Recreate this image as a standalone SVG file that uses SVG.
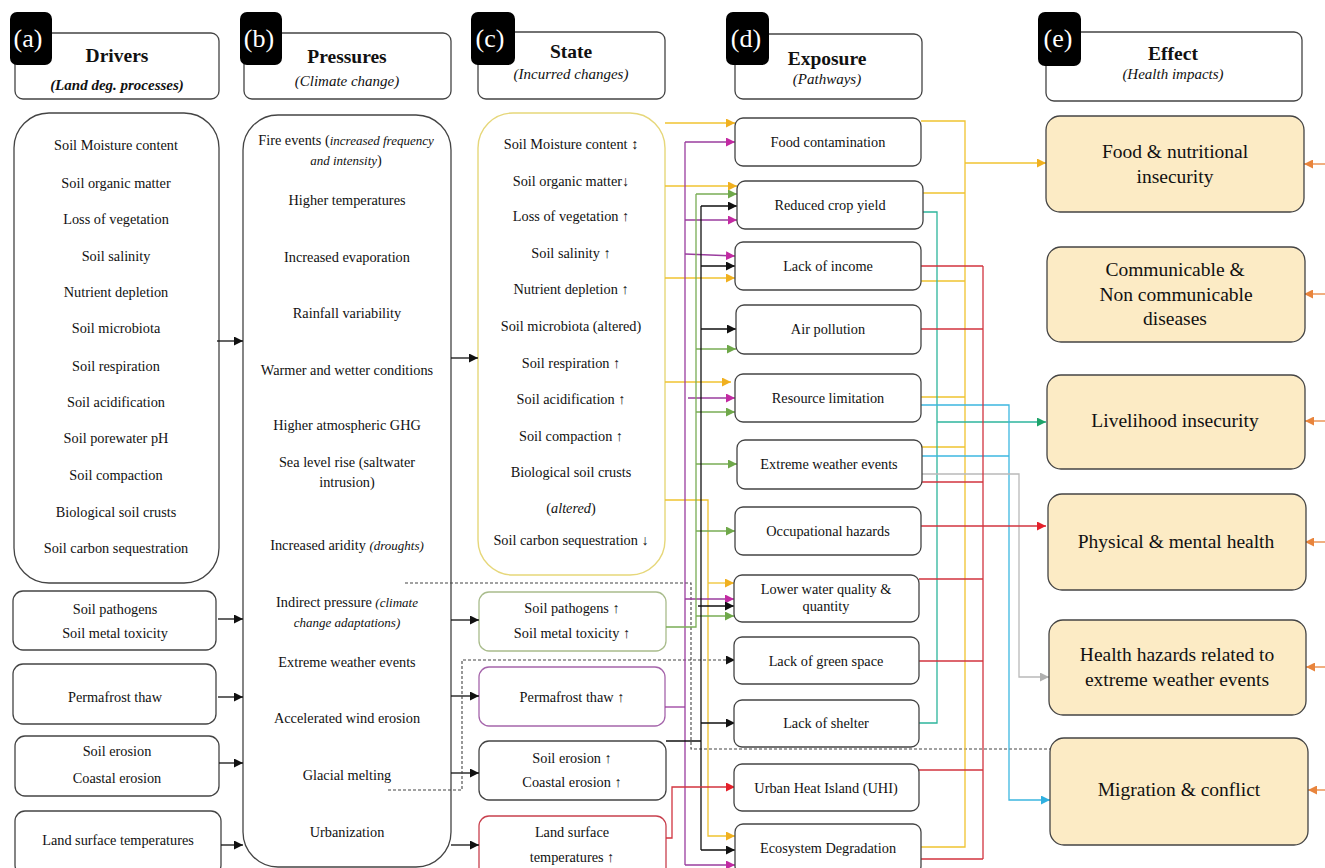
<svg xmlns="http://www.w3.org/2000/svg" width="1325" height="868" viewBox="0 0 1325 868" font-family="'Liberation Serif', 'DejaVu Serif', serif">
<defs>
<style>
text{font-family:'Liberation Serif','DejaVu Serif',serif;fill:#111;}
.t{font-size:14.3px;text-anchor:middle;}
.h{font-size:19.5px;font-weight:bold;text-anchor:middle;}
.s{font-size:15px;font-style:italic;text-anchor:middle;}
.tag{font-size:26px;fill:#fff;text-anchor:middle;}
.ef{font-size:19.5px;text-anchor:middle;}
.it{font-style:italic;font-size:13px;}
.box{fill:#fff;stroke:#444;stroke-width:1.3;}
.eff{fill:#fcebc5;stroke:#444;stroke-width:1.3;}
.tg{fill:#000;}
.c{fill:none;stroke-width:1.3;}
.k{stroke:#111;}
.y{stroke:#f0c330;}
.p{stroke:#9a3d9e;}
.g{stroke:#79ad55;}
.tl{stroke:#2db59c;}
.cy{stroke:#3db7e0;}
.gr{stroke:#b9b9b9;}
.r{stroke:#d2343f;}
.o{stroke:#e8843c;}
.d{stroke:#444;stroke-dasharray:3 2;stroke-width:1.1;}
</style>
<marker id="ak" viewBox="0 0 9 9" refX="9" refY="4.5" markerWidth="9" markerHeight="9" markerUnits="userSpaceOnUse" orient="auto"><path d="M0,0L9,4.5L0,9z" fill="#111"/></marker>
<marker id="ay" viewBox="0 0 9 9" refX="9" refY="4.5" markerWidth="9" markerHeight="9" markerUnits="userSpaceOnUse" orient="auto"><path d="M0,0L9,4.5L0,9z" fill="#f0b020"/></marker>
<marker id="am" viewBox="0 0 9 9" refX="9" refY="4.5" markerWidth="9" markerHeight="9" markerUnits="userSpaceOnUse" orient="auto"><path d="M0,0L9,4.5L0,9z" fill="#c22aa2"/></marker>
<marker id="ag" viewBox="0 0 9 9" refX="9" refY="4.5" markerWidth="9" markerHeight="9" markerUnits="userSpaceOnUse" orient="auto"><path d="M0,0L9,4.5L0,9z" fill="#6fa84a"/></marker>
<marker id="at" viewBox="0 0 9 9" refX="9" refY="4.5" markerWidth="9" markerHeight="9" markerUnits="userSpaceOnUse" orient="auto"><path d="M0,0L9,4.5L0,9z" fill="#1fa36a"/></marker>
<marker id="ac" viewBox="0 0 9 9" refX="9" refY="4.5" markerWidth="9" markerHeight="9" markerUnits="userSpaceOnUse" orient="auto"><path d="M0,0L9,4.5L0,9z" fill="#2fb0e0"/></marker>
<marker id="aG" viewBox="0 0 9 9" refX="9" refY="4.5" markerWidth="9" markerHeight="9" markerUnits="userSpaceOnUse" orient="auto"><path d="M0,0L9,4.5L0,9z" fill="#b0b0b0"/></marker>
<marker id="ar" viewBox="0 0 9 9" refX="9" refY="4.5" markerWidth="9" markerHeight="9" markerUnits="userSpaceOnUse" orient="auto"><path d="M0,0L9,4.5L0,9z" fill="#e5202a"/></marker>
<marker id="ao" viewBox="0 0 9 9" refX="9" refY="4.5" markerWidth="9" markerHeight="9" markerUnits="userSpaceOnUse" orient="auto"><path d="M0,0L9,4.5L0,9z" fill="#e8843c"/></marker>
</defs>
<rect width="1325" height="868" fill="#fff"/>

<!-- headers -->
<g id="hdr-a"><rect class="box" x="15" y="33" width="204" height="66" rx="8"/><rect class="tg" x="10" y="12" width="42" height="53" rx="7"/><text class="tag" x="28" y="47">(a)</text><text class="h" x="117" y="62">Drivers</text><text class="s" x="117" y="90" font-weight="bold">(Land deg. processes)</text></g>
<g id="hdr-b"><rect class="box" x="244" y="33" width="207" height="66" rx="8"/><rect class="tg" x="240" y="12" width="42" height="53" rx="7"/><text class="tag" x="259" y="47">(b)</text><text class="h" x="347" y="63">Pressures</text><text class="s" x="347" y="86">(Climate change)</text></g>
<g id="hdr-c"><rect class="box" x="478" y="32" width="187" height="67" rx="8"/><rect class="tg" x="471" y="12" width="44" height="53" rx="7"/><text class="tag" x="490" y="47">(c)</text><text class="h" x="571" y="58">State</text><text class="s" x="571" y="79">(Incurred changes)</text></g>
<g id="hdr-d"><rect class="box" x="735" y="34" width="187" height="65" rx="8"/><rect class="tg" x="726" y="12" width="43" height="53" rx="7"/><text class="tag" x="746" y="47">(d)</text><text class="h" x="827" y="65">Exposure</text><text class="s" x="827" y="84">(Pathways)</text></g>
<g id="hdr-e"><rect class="box" x="1046" y="32" width="256" height="69" rx="8"/><rect class="tg" x="1038" y="12" width="43" height="54" rx="7"/><text class="tag" x="1058" y="47">(e)</text><text class="h" x="1173" y="60">Effect</text><text class="s" x="1173" y="79">(Health impacts)</text></g>

<!-- drivers -->
<g id="drivers-main"><rect class="box" x="14" y="113" width="205" height="470" rx="35"/>
<text class="t" x="116" y="150">Soil Moisture content</text>
<text class="t" x="116" y="188">Soil organic matter</text>
<text class="t" x="116" y="224">Loss of vegetation</text>
<text class="t" x="116" y="261">Soil salinity</text>
<text class="t" x="116" y="297">Nutrient depletion</text>
<text class="t" x="116" y="333">Soil microbiota</text>
<text class="t" x="116" y="371">Soil respiration</text>
<text class="t" x="116" y="407">Soil acidification</text>
<text class="t" x="116" y="443">Soil porewater pH</text>
<text class="t" x="116" y="480">Soil compaction</text>
<text class="t" x="116" y="517">Biological soil crusts</text>
<text class="t" x="116" y="553">Soil carbon sequestration</text></g>
<g id="drivers-pathogens"><rect class="box" x="13" y="591" width="203" height="59" rx="10"/><text class="t" x="115" y="614">Soil pathogens</text><text class="t" x="115" y="638">Soil metal toxicity</text></g>
<g id="drivers-permafrost"><rect class="box" x="13" y="664" width="203" height="60" rx="10"/><text class="t" x="115" y="702">Permafrost thaw</text></g>
<g id="drivers-erosion"><rect class="box" x="15" y="736" width="204" height="60" rx="10"/><text class="t" x="117" y="756">Soil erosion</text><text class="t" x="117" y="783">Coastal erosion</text></g>
<g id="drivers-lst"><rect class="box" x="15" y="811" width="206" height="64" rx="10"/><text class="t" x="118" y="845">Land surface temperatures</text></g>

<!-- pressures -->
<g id="pressures"><rect class="box" x="243" y="115" width="208" height="752" rx="35"/>
<text class="t" x="346" y="145">Fire events (<tspan class="it">increased frequency</tspan></text>
<text class="t" x="346" y="165"><tspan class="it">and intensity</tspan>)</text>
<text class="t" x="347" y="205">Higher temperatures</text>
<text class="t" x="347" y="262">Increased evaporation</text>
<text class="t" x="347" y="318">Rainfall variability</text>
<text class="t" x="347" y="375">Warmer and wetter conditions</text>
<text class="t" x="347" y="430">Higher atmospheric GHG</text>
<text class="t" x="347" y="467">Sea level rise (saltwater</text>
<text class="t" x="347" y="487">intrusion)</text>
<text class="t" x="347" y="550">Increased aridity <tspan class="it">(droughts)</tspan></text>
<text class="t" x="347" y="607">Indirect pressure <tspan class="it" font-size="14px">(climate</tspan></text>
<text class="t" x="347" y="627"><tspan class="it" font-size="14px">change adaptations)</tspan></text>
<text class="t" x="347" y="667">Extreme weather events</text>
<text class="t" x="347" y="723">Accelerated wind erosion</text>
<text class="t" x="347" y="780">Glacial melting</text>
<text class="t" x="347" y="837">Urbanization</text></g>

<!-- state -->
<g id="state-main"><rect x="478" y="113" width="187" height="462" rx="35" fill="#fff" stroke="#e6d77a" stroke-width="1.4"/>
<text class="t" x="571" y="149">Soil Moisture content ↕</text>
<text class="t" x="571" y="186">Soil organic matter↓</text>
<text class="t" x="571" y="221">Loss of vegetation ↑</text>
<text class="t" x="571" y="258">Soil salinity ↑</text>
<text class="t" x="571" y="294">Nutrient depletion ↑</text>
<text class="t" x="571" y="331">Soil microbiota (altered)</text>
<text class="t" x="571" y="368">Soil respiration ↑</text>
<text class="t" x="571" y="404">Soil acidification ↑</text>
<text class="t" x="571" y="441">Soil compaction ↑</text>
<text class="t" x="571" y="477">Biological soil crusts</text>
<text class="t" x="571" y="513">(<tspan font-style="italic">altered</tspan>)</text>
<text class="t" x="571" y="545">Soil carbon sequestration ↓</text></g>
<g id="state-pathogens"><rect x="479" y="592" width="187" height="59" rx="10" fill="#fff" stroke="#a9bc8c" stroke-width="1.3"/><text class="t" x="572" y="613">Soil pathogens ↑</text><text class="t" x="572" y="638">Soil metal toxicity ↑</text></g>
<g id="state-permafrost"><rect x="479" y="667" width="186" height="59" rx="10" fill="#fff" stroke="#a565ab" stroke-width="1.3"/><text class="t" x="572" y="702">Permafrost thaw ↑</text></g>
<g id="state-erosion"><rect class="box" x="479" y="741" width="187" height="59" rx="10"/><text class="t" x="572" y="763">Soil erosion ↑</text><text class="t" x="572" y="787">Coastal erosion ↑</text></g>
<g id="state-lst"><rect x="479" y="816" width="187" height="62" rx="10" fill="#fff" stroke="#c8404e" stroke-width="1.3"/><text class="t" x="572" y="837">Land surface</text><text class="t" x="572" y="862">temperatures ↑</text></g>

<!-- connectors -->
<g id="connectors">
<path class="c k" d="M217 341H243" marker-end="url(#ak)"/>
<path class="c k" d="M218 619H243" marker-end="url(#ak)"/>
<path class="c k" d="M218 697H243" marker-end="url(#ak)"/>
<path class="c k" d="M219 763H243" marker-end="url(#ak)"/>
<path class="c k" d="M221 845H243" marker-end="url(#ak)"/>
<path class="c k" d="M451 358H478" marker-end="url(#ak)"/>
<path class="c k" d="M451 620H479" marker-end="url(#ak)"/>
<path class="c k" d="M451 696H479" marker-end="url(#ak)"/>
<path class="c k" d="M451 773H479" marker-end="url(#ak)"/>
<path class="c k" d="M451 845H479" marker-end="url(#ak)"/>
<path class="c d" d="M405 583H691V749H1070" marker-end="url(#ak)"/>
<path class="c d" d="M388 790H462V660H735" marker-end="url(#ak)"/>
<!-- yellow left -->
<path class="c y" d="M665 123H735" marker-end="url(#ay)"/>
<path class="c y" d="M665 186H737" marker-end="url(#ay)"/>
<path class="c y" d="M665 278H735" marker-end="url(#ay)"/>
<path class="c y" d="M665 382H731" marker-end="url(#ay)"/>
<path class="c y" d="M665 500H708V836H735" marker-end="url(#ay)"/>
<path class="c y" d="M708 583H734" marker-end="url(#ay)"/>
<!-- purple -->
<path class="c p" d="M685 142V865"/>
<path class="c p" d="M665 707H685"/>
<path class="c p" d="M685 142H735" marker-end="url(#am)"/>
<path class="c p" d="M685 220H737" marker-end="url(#am)"/>
<path class="c p" d="M685 254L735 256" marker-end="url(#am)"/>
<path class="c p" d="M688 398H735" marker-end="url(#am)"/>
<path class="c p" d="M685 599H734" marker-end="url(#am)"/>
<path class="c p" d="M685 865H735" marker-end="url(#am)"/>
<!-- green -->
<path class="c g" d="M666 627H696V194"/>
<path class="c g" d="M696 194H737" marker-end="url(#ag)"/>
<path class="c g" d="M696 349H736" marker-end="url(#ag)"/>
<path class="c g" d="M696 412H735" marker-end="url(#ag)"/>
<path class="c g" d="M696 464H737" marker-end="url(#ag)"/>
<path class="c g" d="M696 531H735" marker-end="url(#ag)"/>
<path class="c g" d="M696 616H734" marker-end="url(#ag)"/>
<!-- black -->
<path class="c k" d="M701 206V850"/>
<path class="c k" d="M666 741H701"/>
<path class="c k" d="M701 206H737" marker-end="url(#ak)"/>
<path class="c k" d="M701 266H735" marker-end="url(#ak)"/>
<path class="c k" d="M701 329H736" marker-end="url(#ak)"/>
<path class="c k" d="M698 606H734" marker-end="url(#ak)"/>
<path class="c k" d="M701 723H735" marker-end="url(#ak)"/>
<path class="c k" d="M701 850H735" marker-end="url(#ak)"/>
<!-- red lst -->
<path class="c r" d="M666 838H672V787H735" marker-end="url(#ar)"/>
<!-- right yellow bus -->
<path class="c y" d="M921 121H965V847H921M923 193H965M921 281H965M921 397H965M922 447H965"/>
<path class="c y" d="M965 163H1046" marker-end="url(#ay)"/>
<!-- teal -->
<path class="c tl" d="M923 212H937V723H919"/>
<path class="c tl" d="M937 422H1046" marker-end="url(#at)"/>
<!-- cyan -->
<path class="c cy" d="M921 405H1009V800H1050" marker-end="url(#ac)"/>
<path class="c cy" d="M922 456H1009"/>
<!-- gray -->
<path class="c gr" d="M922 474H1019V677H1049" marker-end="url(#aG)"/>
<!-- red -->
<path class="c r" d="M983 266V859M921 266H983M921 329H983M922 482H983M919 579H983M919 661H983M919 770H983M921 859H983"/>
<path class="c r" d="M921 526H1046" marker-end="url(#ar)"/>
<!-- orange -->
<path class="c o" d="M1325 164H1304" marker-end="url(#ao)"/>
<path class="c o" d="M1325 294H1304" marker-end="url(#ao)"/>
<path class="c o" d="M1325 421H1305" marker-end="url(#ao)"/>
<path class="c o" d="M1325 542H1305" marker-end="url(#ao)"/>
<path class="c o" d="M1325 667H1306" marker-end="url(#ao)"/>
<path class="c o" d="M1325 790H1308" marker-end="url(#ao)"/>
</g>

<!-- exposure -->
<g id="exp-food"><rect class="box" x="735" y="118" width="186" height="48" rx="8"/><text class="t" x="828" y="147">Food contamination</text></g>
<g id="exp-crop"><rect class="box" x="737" y="181" width="186" height="48" rx="8"/><text class="t" x="830" y="210">Reduced crop yield</text></g>
<g id="exp-income"><rect class="box" x="735" y="242" width="186" height="48" rx="8"/><text class="t" x="828" y="271">Lack of income</text></g>
<g id="exp-air"><rect class="box" x="736" y="305" width="185" height="49" rx="8"/><text class="t" x="828" y="334">Air pollution</text></g>
<g id="exp-resource"><rect class="box" x="735" y="374" width="186" height="48" rx="8"/><text class="t" x="828" y="403">Resource limitation</text></g>
<g id="exp-weather"><rect class="box" x="737" y="440" width="185" height="49" rx="8"/><text class="t" x="829" y="469">Extreme weather events</text></g>
<g id="exp-occup"><rect class="box" x="735" y="507" width="186" height="48" rx="8"/><text class="t" x="828" y="536">Occupational hazards</text></g>
<g id="exp-water"><rect class="box" x="734" y="575" width="185" height="47" rx="8"/><text class="t" x="826" y="594">Lower water quality &amp;</text><text class="t" x="826" y="611">quantity</text></g>
<g id="exp-green"><rect class="box" x="734" y="637" width="185" height="47" rx="8"/><text class="t" x="826" y="666">Lack of green space</text></g>
<g id="exp-shelter"><rect class="box" x="734" y="700" width="185" height="47" rx="8"/><text class="t" x="826" y="728">Lack of shelter</text></g>
<g id="exp-uhi"><rect class="box" x="734" y="764" width="185" height="47" rx="8"/><text class="t" x="826" y="793">Urban Heat Island (UHI)</text></g>
<g id="exp-eco"><rect class="box" x="735" y="824" width="186" height="50" rx="8"/><text class="t" x="828" y="853">Ecosystem Degradation</text></g>

<!-- effects -->
<g id="eff-food"><rect class="eff" x="1046" y="116" width="258" height="96" rx="14"/><text class="ef" x="1175" y="158">Food &amp; nutritional</text><text class="ef" x="1175" y="183">insecurity</text></g>
<g id="eff-disease"><rect class="eff" x="1047" y="247" width="258" height="95" rx="14"/><text class="ef" x="1175" y="276">Communicable &amp;</text><text class="ef" x="1176" y="301">Non communicable</text><text class="ef" x="1175" y="325">diseases</text></g>
<g id="eff-livelihood"><rect class="eff" x="1047" y="375" width="258" height="94" rx="14"/><text class="ef" x="1175" y="427">Livelihood insecurity</text></g>
<g id="eff-health"><rect class="eff" x="1048" y="494" width="258" height="96" rx="14"/><text class="ef" x="1176" y="548">Physical &amp; mental health</text></g>
<g id="eff-hazards"><rect class="eff" x="1049" y="620" width="257" height="95" rx="14"/><text class="ef" x="1177" y="661">Health hazards related to</text><text class="ef" x="1177" y="686">extreme weather events</text></g>
<g id="eff-migration"><rect class="eff" x="1050" y="738" width="258" height="107" rx="14"/><text class="ef" x="1179" y="796">Migration &amp; conflict</text></g>
</svg>
